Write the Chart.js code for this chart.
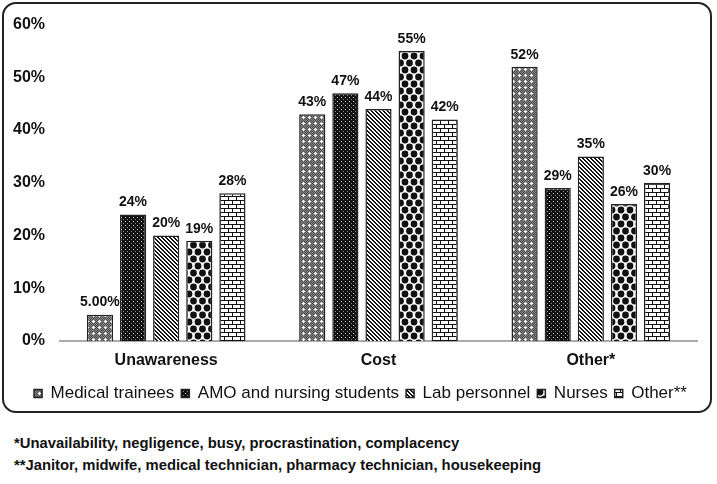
<!DOCTYPE html>
<html>
<head>
<meta charset="utf-8">
<script src="https://cdn.jsdelivr.net/npm/chart.js@4/dist/chart.umd.min.js"></script>
<style>
    body { margin: 0; background: #fff; font-family: "Liberation Sans", Arial, sans-serif; }
    #frame {
        position: absolute; left: 2px; top: 2px; width: 706px; height: 407px;
        border: 2px solid #222; border-radius: 14px;
    }
    #wrap { position: absolute; left: 0; top: 0; width: 717px; height: 426px; }
    .note {
        position: absolute; left: 14px; font-weight: bold; font-size: 14.8px;
        line-height: 17px; color: #111; white-space: nowrap;
    }
</style>
</head>
<body>
<div id="frame"></div>
<div id="wrap"><canvas id="barChart"></canvas></div>
<div class="note" style="top:435px">*Unavailability, negligence, busy, procrastination, complacency</div>
<div class="note" style="top:457px">**Janitor, midwife, medical technician, pharmacy technician, housekeeping</div>
<script>
var categories = ['Unawareness', 'Cost', 'Other*'];
var groups = ['Medical trainees', 'AMO and nursing students', 'Lab personnel', 'Nurses', 'Other**'];
var medicalTrainees = [5, 43, 52];
var amoStudents = [24, 47, 29];
var labPersonnel = [20, 44, 35];
var nurses = [19, 55, 26];
var otherStaff = [28, 42, 30];
var yTicks = [0, 10, 20, 30, 40, 50, 60];

var ctx = document.getElementById('barChart').getContext('2d');

function makePattern(w, h, draw) {
    var c = document.createElement('canvas');
    c.width = w;
    c.height = h;
    var g = c.getContext('2d');
    draw(g);
    return ctx.createPattern(c, 'repeat');
}

// halftone grey with white crosses
var dotsGrey = makePattern(6, 6, function (g) {
    g.fillStyle = '#4a4a4a';
    g.fillRect(0, 0, 6, 6);
    g.fillStyle = '#8a8a8a';
    for (var y = 0; y < 6; y++) {
        for (var x = (y % 2); x < 6; x += 2) g.fillRect(x, y, 1, 1);
    }
    g.fillStyle = '#fff';
    g.fillRect(3, 2, 1, 3);
    g.fillRect(2, 3, 3, 1);
});

// black with small white dots
var dotsBlack = makePattern(4, 4, function (g) {
    g.fillStyle = '#111';
    g.fillRect(0, 0, 4, 4);
    g.fillStyle = '#ddd';
    g.fillRect(1, 1, 1, 1);
    g.fillStyle = '#888';
    g.fillRect(3, 3, 1, 1);
});

// diagonal stripes
var stripes = makePattern(4, 4, function (g) {
    g.fillStyle = '#fff';
    g.fillRect(0, 0, 4, 4);
    g.fillStyle = '#111';
    for (var i = 0; i < 4; i++) {
        g.fillRect(i, i, 1, 1);
        g.fillRect((i + 1) % 4, i, 1, 1);
    }
});

// black diamonds on white
var diamonds = makePattern(9, 14, function (g) {
    g.fillStyle = '#fff';
    g.fillRect(0, 0, 9, 14);
    g.fillStyle = '#111';
    var centres = [[0, 0], [9, 0], [0, 14], [9, 14], [4.5, 7]];
    centres.forEach(function (p) {
        g.beginPath();
        g.arc(p[0], p[1], 3.4, 0, Math.PI * 2);
        g.fill();
    });
});

// brick
var bricks = makePattern(8, 8, function (g) {
    g.fillStyle = '#fff';
    g.fillRect(0, 0, 8, 8);
    g.fillStyle = '#111';
    g.fillRect(0, 0, 8, 1);
    g.fillRect(0, 4, 8, 1);
    g.fillRect(0, 0, 1, 4);
    g.fillRect(4, 4, 1, 4);
});

var fills = [dotsGrey, dotsBlack, stripes, diamonds, bricks];
var series = [medicalTrainees, amoStudents, labPersonnel, nurses, otherStaff];

var valueLabels = {
    id: 'valueLabels',
    afterDatasetsDraw: function (chart) {
        var c = chart.ctx;
        c.save();
        c.font = 'bold 14px "Liberation Sans", Arial, sans-serif';
        c.fillStyle = '#111';
        c.textAlign = 'center';
        c.textBaseline = 'bottom';
        chart.data.datasets.forEach(function (ds, i) {
            chart.getDatasetMeta(i).data.forEach(function (bar, j) {
                var v = ds.data[j];
                var txt = (v < 10 ? v.toFixed(2) : v) + '%';
                c.fillText(txt, bar.x, bar.y - 5);
            });
        });
        c.restore();
    }
};

// nudge the legend a little to the right, as in the original
var legendShift = {
    id: 'legendShift',
    afterLayout: function (chart) {
        chart.legend.left += 12;
        chart.legend.right += 12;
    }
};

var data = {
    labels: categories,
    datasets: series.map(function (vals, i) {
        return {
            label: groups[i],
            data: vals,
            backgroundColor: fills[i],
            borderColor: '#222',
            borderWidth: 1.5,
            categoryPercentage: 0.78,
            barPercentage: 0.79
        };
    })
};

var options = {
    responsive: true,
    maintainAspectRatio: false,
    animation: false,
    layout: { padding: { top: 20, right: 20, bottom: 14, left: 0 } },
    plugins: {
        tooltip: { enabled: false },
        legend: {
            position: 'bottom',
            labels: {
                boxWidth: 8,
                boxHeight: 8,
                padding: 7,
                color: '#111',
                font: { family: '"Liberation Sans", Arial, sans-serif', size: 17 }
            }
        }
    },
    scales: {
        x: {
            grid: { display: false, drawTicks: false },
            border: { display: true, color: '#aaa', width: 2 },
            ticks: {
                padding: 10,
                color: '#111',
                font: { family: '"Liberation Sans", Arial, sans-serif', size: 16, weight: 'bold' }
            },
            afterFit: function (scale) { scale.height = 37; }
        },
        y: {
            min: 0,
            max: 60,
            grid: { display: false, drawTicks: false },
            border: { display: false },
            afterBuildTicks: function (scale) {
                scale.ticks = yTicks.map(function (v) { return { value: v }; });
            },
            ticks: {
                padding: 15,
                color: '#111',
                font: { family: '"Liberation Sans", Arial, sans-serif', size: 16, weight: 'bold' },
                callback: function (v) { return v + '%'; }
            },
            afterFit: function (scale) { scale.width = 60; }
        }
    }
};

new Chart(ctx, {
    type: 'bar',
    data: data,
    options: options,
    plugins: [valueLabels, legendShift]
});
</script>
</body>
</html>
